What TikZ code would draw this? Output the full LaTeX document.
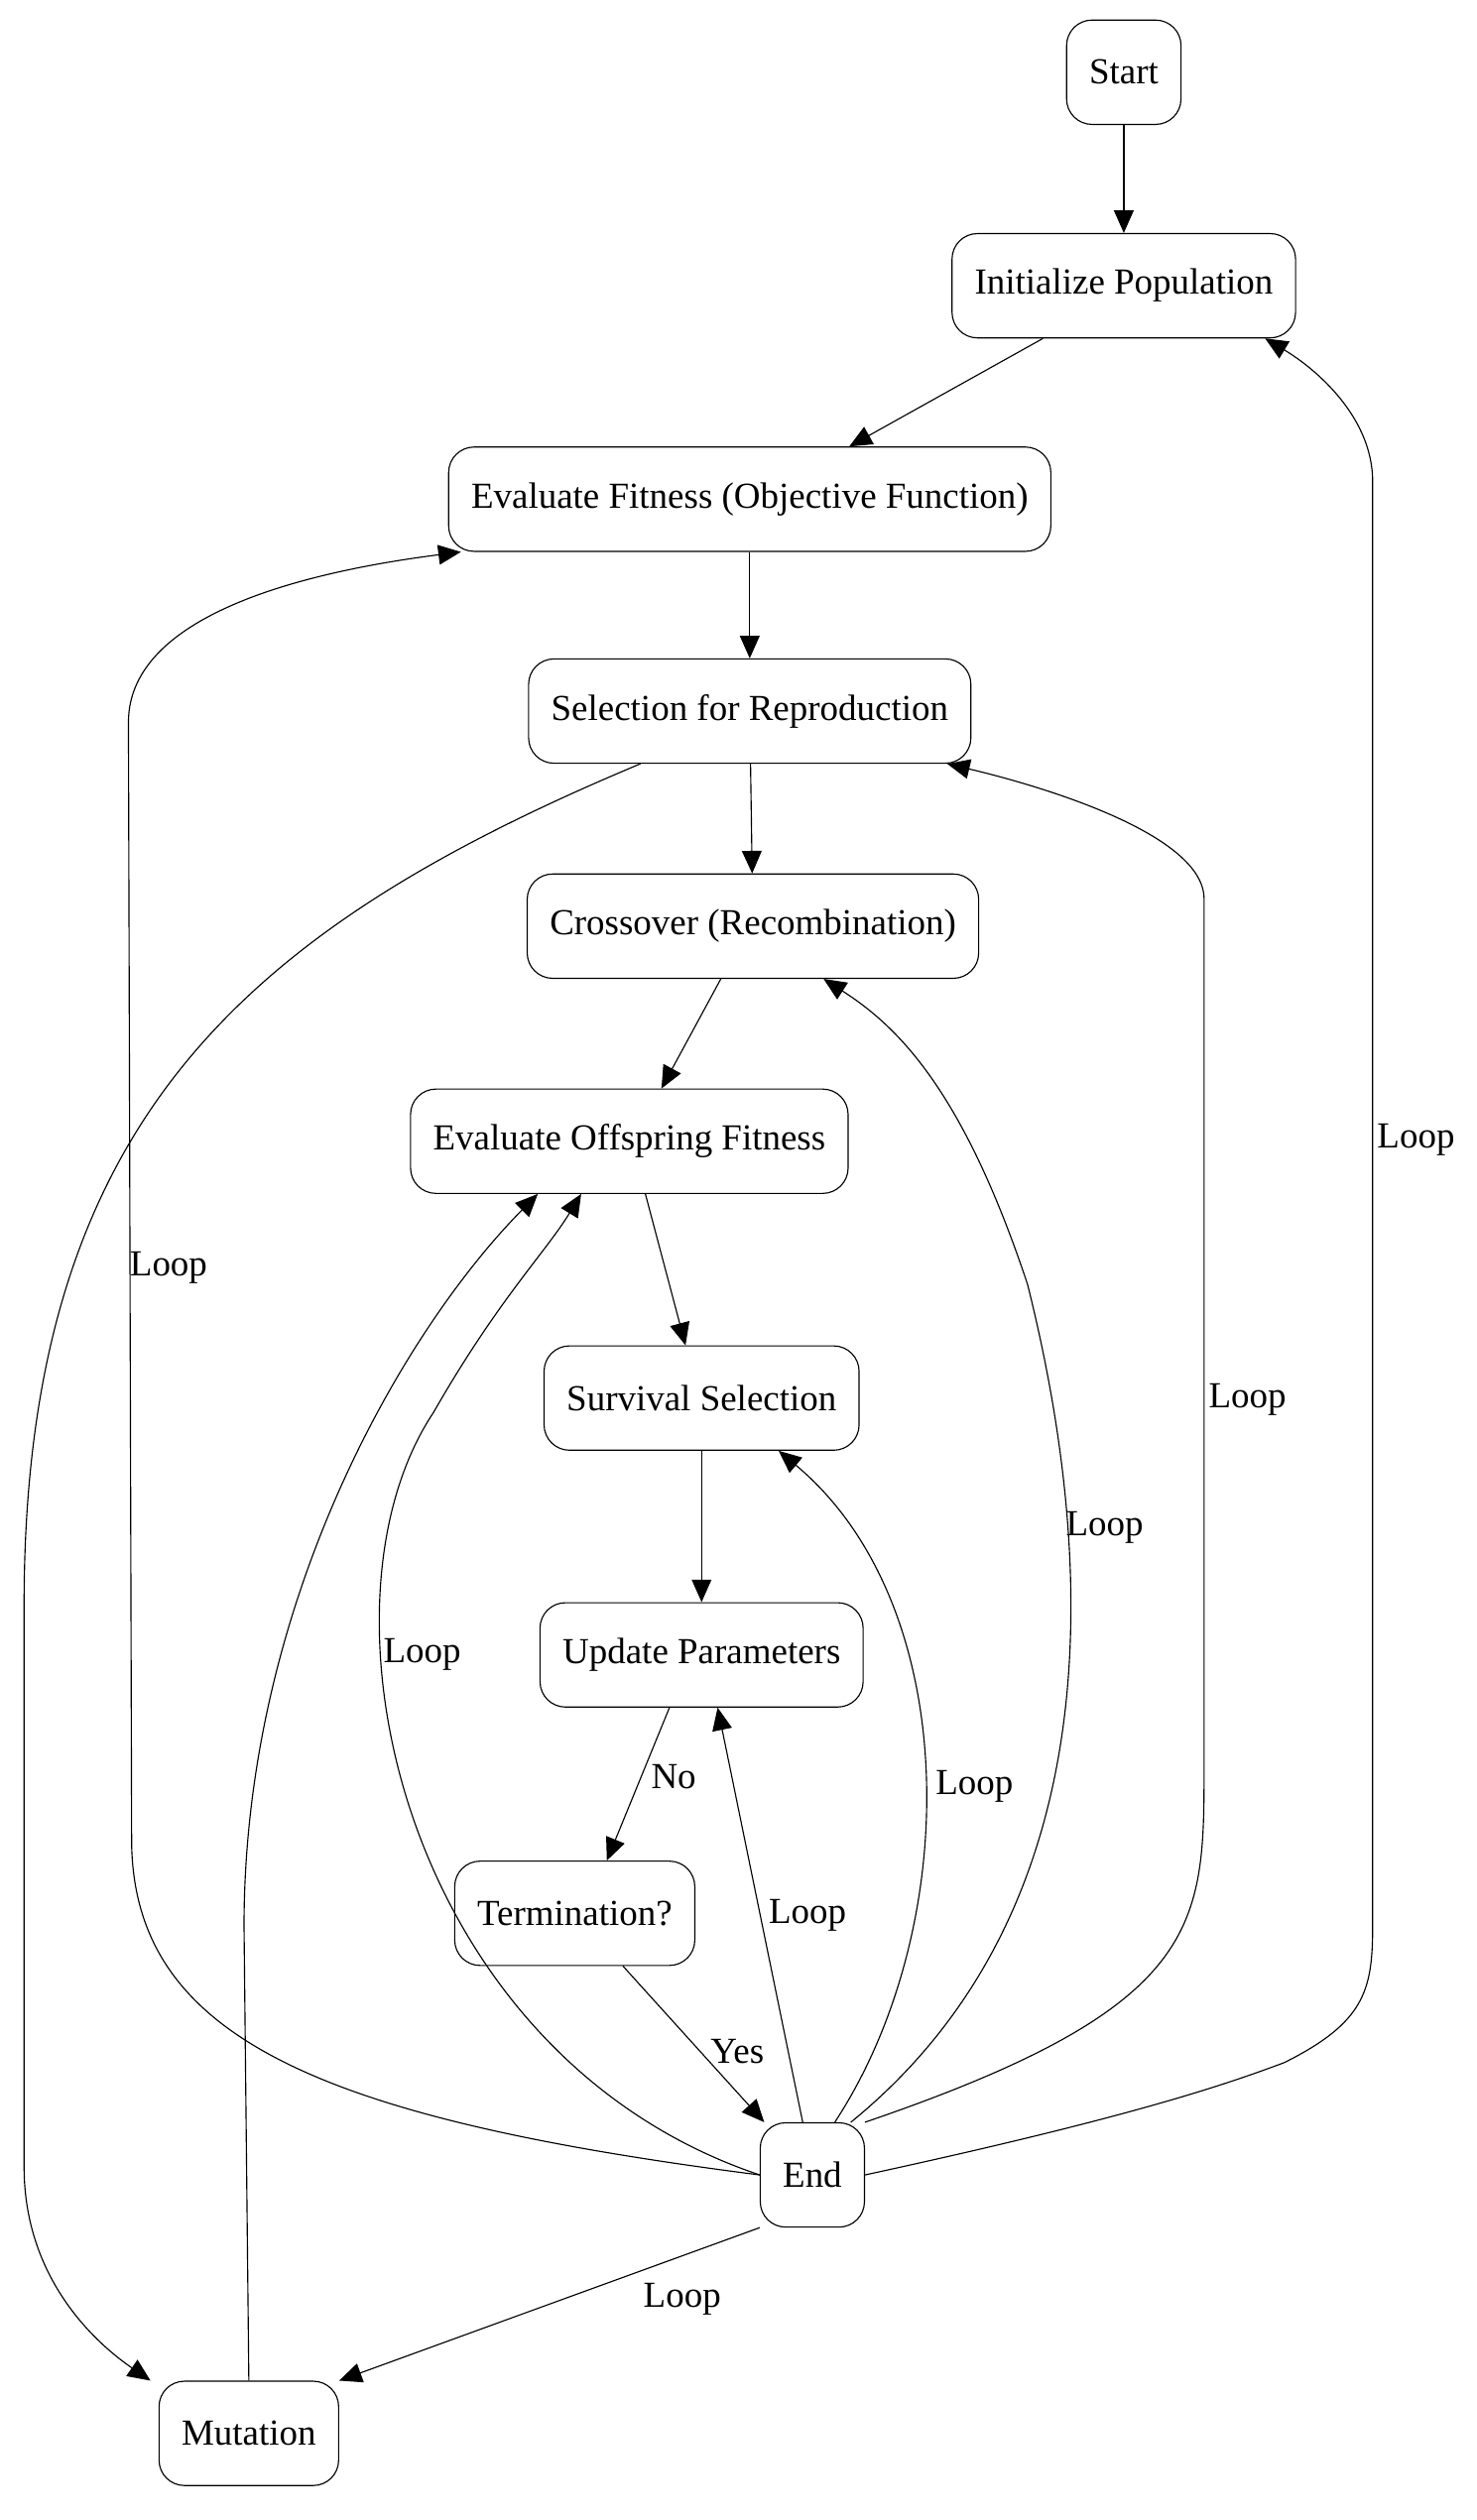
\documentclass[tikz,border=0pt]{standalone}
\usepackage{fontspec}
\setmainfont{Liberation Serif}
\usetikzlibrary{arrows.meta, calc, positioning}

\begin{document}
\begin{tikzpicture}
	[x=0.02cm, y=-0.02cm,
	 stage/.style={draw, rounded corners=9pt, minimum height=1.3cm, inner xsep=8pt, font=\fontsize{13}{15}\selectfont},
	 flow/.style={-{Triangle[length=8pt, width=7pt]}},
	 lbl/.style={font=\fontsize{13}{15}\selectfont}]
	\useasboundingbox (0,0) rectangle (920,1570);
	\node[stage] (start) at (700,45) {Start};
	\node[stage] (init) at (700,178) {Initialize Population};
	\node[stage] (evalfit) at (467,311) {Evaluate Fitness (Objective Function)};
	\node[stage] (select) at (467,443) {Selection for Reproduction};
	\node[stage] (cross) at (469,577) {Crossover (Recombination)};
	\node[stage] (evaloff) at (392,711) {Evaluate Offspring Fitness};
	\node[stage] (surv) at (437,871) {Survival Selection};
	\node[stage] (update) at (437,1031) {Update Parameters};
	\node[stage] (term) at (358,1192) {Termination?};
	\node[stage] (end) at (506,1355) {End};
	\node[stage] (mut) at (155,1516) {Mutation};

	% main chain
	\draw[flow] (start) -- (init);
	\draw[flow] ($(init.south west)+(57,0)$) -- ($(evalfit.north)+(62,0)$);
	\draw[flow] (evalfit) -- (select);
	\draw[flow] (select) -- (cross);
	\draw[flow] ($(cross.south)+(-20,0)$) -- ($(evaloff.north)+(20,0)$);
	\draw[flow] ($(evaloff.south)+(10,0)$) -- ($(surv.north)+(-10,0)$);
	\draw[flow] (surv) -- (update);
	\draw[flow] ($(update.south)+(-20,0)$) -- node[lbl, right, pos=0.45]{No} ($(term.north)+(20,0)$);
	\draw[flow] ($(term.south)+(30,0)$) -- node[lbl, right, pos=0.55]{Yes} ($(end.north)+(-30,0)$);
	\draw[flow] ($(select.south west)+(70,0)$) .. controls (150,580) and (15,700) .. (15,1000) -- (15,1350)
		.. controls (15,1420) and (60,1460) .. ($(mut.north west)+(-5,0)$);
	\draw[flow] (mut.north) -- (152,1200) .. controls (152,1000) and (250,830) .. ($(evaloff.south)+(-57,0)$);

	% loops back from end
	\draw[flow] (end.south west) -- node[lbl, below right, pos=0.3]{Loop} (mut.north east);
	\draw[flow] (end.west) .. controls (200,1320) and (85,1270) .. (82,1150) -- (80,450)
		.. controls (80,380) and (200,355) .. ($(evalfit.south west)+(8,0)$);
	\node[lbl] (l1) at (105,790) {Loop};
	\draw[flow] (end.west) .. controls (250,1280) and (190,1000) .. (270,880)
		.. controls (310,810) and (340,780) .. ($(evaloff.south)+(-30,0)$);
	\node[lbl] (l2) at (263,1031) {Loop};
	\draw[flow] ($(end.north)+(-6,0)$) -- ($(update.south)+(10,0)$);
	\node[lbl] (l3) at (503,1193) {Loop};
	\draw[flow] ($(end.north)+(14,0)$) .. controls (600,1200) and (600,1000) .. ($(surv.south)+(48,0)$);
	\node[lbl] (l4) at (607,1113) {Loop};
	\draw[flow] ($(end.north)+(24,0)$) .. controls (680,1200) and (690,1000) .. (640,800)
		.. controls (600,680) and (560,640) .. ($(cross.south)+(44,0)$);
	\node[lbl] (l5) at (688,952) {Loop};
	\draw[flow] (end.north east) .. controls (750,1250) and (750,1200) .. (750,1100) -- (750,560)
		.. controls (750,520) and (650,490) .. ($(select.south)+(123,0)$);
	\node[lbl] (l6) at (777,872) {Loop};
	\draw[flow] (end.east) .. controls (700,1320) and (760,1300) .. (800,1285)
		.. controls (850,1260) and (855,1240) .. (855,1200) -- (855,300)
		.. controls (855,260) and (820,230) .. ($(init.south)+(88,0)$);
	\node[lbl] (l7) at (882,710) {Loop};
\end{tikzpicture}
\end{document}
